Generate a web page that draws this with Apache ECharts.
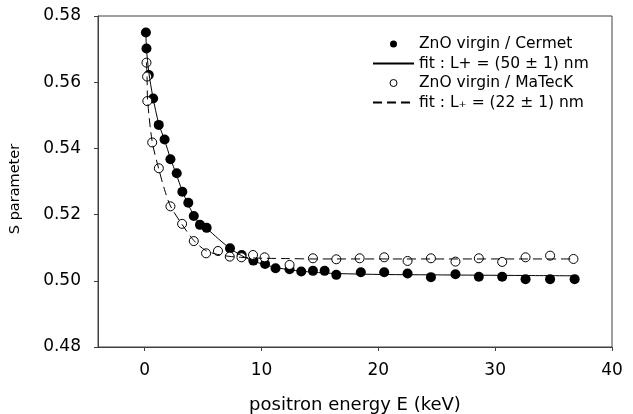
<!DOCTYPE html>
<html>
<head>
<meta charset="utf-8">
<script src="https://cdn.jsdelivr.net/npm/echarts@6/dist/echarts.min.js"></script>
<style>
  html, body { margin: 0; padding: 0; background: #fff; }
  #chart { width: 633px; height: 414px; }
</style>
</head>
<body>
<div id="chart"></div>
<script>
// ---- data ----
const cermetE = [0.1, 0.15, 0.35, 0.72, 1.2, 1.7, 2.2, 2.74, 3.22, 3.73, 4.2, 4.73, 5.3, 7.3, 8.3, 9.3, 10.3, 11.2, 12.4, 13.4, 14.4, 15.4, 16.4, 18.5, 20.5, 22.5, 24.5, 26.6, 28.6, 30.6, 32.6, 34.7, 36.8];
const cermetS = [0.5750, 0.5702, 0.5622, 0.5551, 0.5471, 0.5427, 0.5367, 0.5325, 0.5269, 0.5236, 0.5196, 0.5169, 0.5160, 0.5098, 0.5078, 0.5061, 0.5051, 0.5038, 0.5035, 0.5028, 0.5030, 0.5030, 0.5018, 0.5026, 0.5026, 0.5022, 0.5011, 0.5020, 0.5012, 0.5012, 0.5005, 0.5005, 0.5005];

const mateckE = [0.15, 0.2, 0.22, 0.64, 1.21, 2.2, 3.2, 4.2, 5.25, 6.27, 7.28, 8.28, 9.27, 10.26, 12.4, 14.4, 16.4, 18.4, 20.5, 22.5, 24.5, 26.6, 28.6, 30.6, 32.6, 34.7, 36.7];
const mateckS = [0.5659, 0.5617, 0.5543, 0.5418, 0.5340, 0.5225, 0.5172, 0.5120, 0.5083, 0.5090, 0.5073, 0.5071, 0.5078, 0.5071, 0.5048, 0.5068, 0.5065, 0.5068, 0.5071, 0.5060, 0.5068, 0.5058, 0.5068, 0.5057, 0.5071, 0.5076, 0.5066];

// fit curves
const fitCermetE = [0.1, 0.15, 0.35, 0.7, 1.2, 1.7, 2.2, 2.7, 3.2, 3.7, 4.2, 4.7, 5.3, 6.3, 7.3, 8.3, 9.3, 10.3, 11.3, 12.4, 14.4, 16.4, 20.5, 24.5, 28.6, 32.6, 36.8];
const fitCermetS = [0.5750, 0.5702, 0.5630, 0.5555, 0.5475, 0.5425, 0.5370, 0.5322, 0.5273, 0.5232, 0.5198, 0.5172, 0.5158, 0.5127, 0.5098, 0.5076, 0.5060, 0.5048, 0.5040, 0.5033, 0.5026, 0.5022, 0.5019, 0.5018, 0.5017, 0.5016, 0.5015];

const fitMateckE = [0.15, 0.2, 0.25, 0.64, 1.2, 1.7, 2.2, 3.2, 4.2, 5.2, 6.2, 7.2, 8.2, 9.3, 10.3, 12.4, 14.4, 20, 26, 32, 36.8];
const fitMateckS = [0.5660, 0.5615, 0.5545, 0.5420, 0.5338, 0.5275, 0.5226, 0.5170, 0.5122, 0.5092, 0.5080, 0.5074, 0.5071, 0.5069, 0.5068, 0.5067, 0.5066, 0.5066, 0.5066, 0.5066, 0.5066];

const xTicks = [0, 10, 20, 30, 40];

const seriesNames = [
  'ZnO virgin / Cermet',
  'fit : L+ = (50 ± 1) nm',
  'ZnO virgin / MaTecK',
  'fit : L\u208A = (22 ± 1) nm'
];

function pairs(xs, ys) { return xs.map((x, i) => [x, ys[i]]); }

const FONT = 'DejaVu Sans';
const AXIS_COLOR = '#404040';
const HIDDEN = { color: 'rgba(0,0,0,0)', borderColor: 'rgba(0,0,0,0)', borderWidth: 0 };

const chart = echarts.init(document.getElementById('chart'), null, { renderer: 'canvas' });

chart.setOption({
  animation: false,
  backgroundColor: '#fff',
  textStyle: { fontFamily: FONT },
  grid: {
    left: 98, right: 21, top: 16, bottom: 67,
    show: true, borderColor: AXIS_COLOR, borderWidth: 1,
    outerBoundsMode: 'none'
  },
  xAxis: {
    type: 'value',
    min: -4, max: 40,
    splitLine: { show: false },
    axisLine: { show: true, onZero: false, lineStyle: { color: AXIS_COLOR, width: 1 } },
    axisTick: { show: true, inside: false, length: 4, customValues: xTicks, lineStyle: { color: AXIS_COLOR } },
    axisLabel: { customValues: xTicks, margin: 15, color: '#000', fontFamily: FONT, fontSize: 17 },
    name: 'positron energy E (keV)',
    nameLocation: 'middle',
    nameGap: 49,
    nameTextStyle: { color: '#000', fontFamily: FONT, fontSize: 18 }
  },
  yAxis: {
    type: 'value',
    min: 0.48, max: 0.58, interval: 0.02,
    splitLine: { show: false },
    axisLine: { show: true, onZero: false, lineStyle: { color: AXIS_COLOR, width: 1 } },
    axisTick: { show: true, inside: false, length: 4, lineStyle: { color: AXIS_COLOR } },
    axisLabel: {
      margin: 17, color: '#000', fontFamily: FONT, fontSize: 17,
      formatter: v => v.toFixed(2)
    }
  },
  graphic: [{
    type: 'text',
    x: 15.5, y: 189,
    rotation: Math.PI / 2,
    style: {
      text: 'S parameter',
      fontFamily: FONT, fontSize: 14.5,
      fill: '#000',
      align: 'center', verticalAlign: 'middle'
    }
  }],
  legend: {
    orient: 'vertical',
    left: 367, top: 31,
    itemWidth: 41, itemHeight: 7,
    itemGap: 3.5,
    data: [
      { name: seriesNames[0], icon: 'circle', itemStyle: { color: '#000', borderWidth: 0 } },
      { name: seriesNames[1], itemStyle: HIDDEN },
      { name: seriesNames[2], icon: 'circle', itemStyle: { color: '#fff', borderColor: '#000', borderWidth: 1 } },
      { name: seriesNames[3], itemStyle: HIDDEN }
    ],
    textStyle: { color: '#000', fontFamily: FONT, fontSize: 15.5 }
  },
  series: [
    {
      name: seriesNames[0], type: 'scatter',
      data: pairs(cermetE, cermetS),
      symbol: 'circle', symbolSize: 10,
      itemStyle: { color: '#000', borderColor: '#000', borderWidth: 0, opacity: 1 }
    },
    {
      name: seriesNames[1], type: 'line',
      data: pairs(fitCermetE, fitCermetS),
      showSymbol: false, symbol: 'none', smooth: 0.3,
      lineStyle: { color: '#000', width: 1, type: 'solid' },
      itemStyle: { color: '#000' }
    },
    {
      name: seriesNames[2], type: 'scatter',
      data: pairs(mateckE, mateckS),
      symbol: 'circle', symbolSize: 9,
      itemStyle: { color: '#fff', borderColor: '#000', borderWidth: 1, opacity: 1 }
    },
    {
      name: seriesNames[3], type: 'line',
      data: pairs(fitMateckE, fitMateckS),
      showSymbol: false, symbol: 'none', smooth: 0.3,
      lineStyle: { color: '#000', width: 1, type: [9, 5] },
      itemStyle: { color: '#000' }
    }
  ]
});
</script>
</body>
</html>
